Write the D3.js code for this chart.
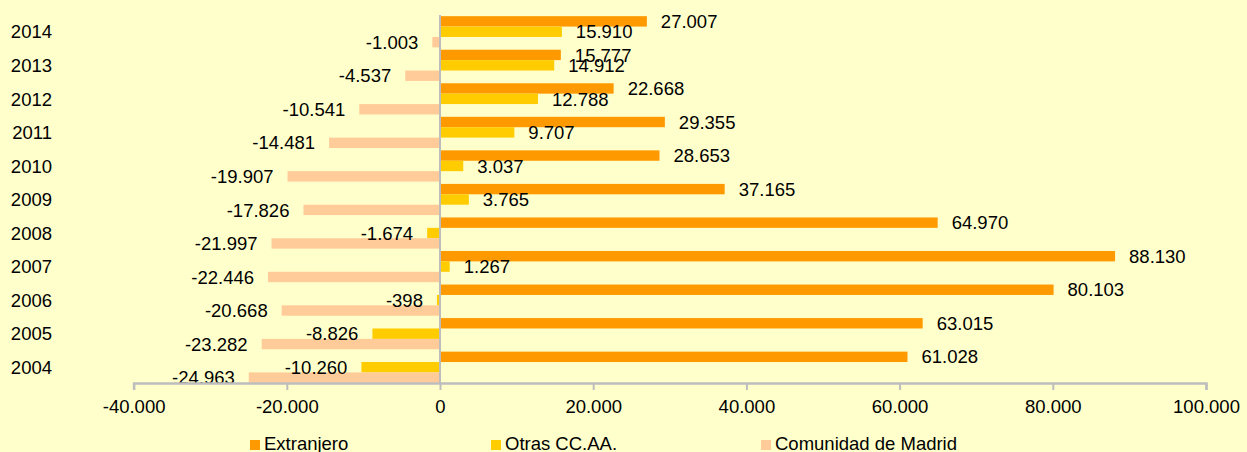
<!DOCTYPE html>
<html>
<head>
<meta charset="utf-8">
<script src="https://cdn.jsdelivr.net/npm/d3@7"></script>
<style>
  body { margin: 0; background: #ffffcc; }
  svg { display: block; font-family: "Liberation Sans", Arial, sans-serif; }
</style>
</head>
<body>
<script>
var width = 1247,
    height = 452;

// data
var years = ["2014", "2013", "2012", "2011", "2010", "2009", "2008", "2007", "2006", "2005", "2004"];
var seriesNames = ["Extranjero", "Otras CC.AA.", "Comunidad de Madrid"];
var extranjero = [27007, 15777, 22668, 29355, 28653, 37165, 64970, 88130, 80103, 63015, 61028];
var otras = [15910, 14912, 12788, 9707, 3037, 3765, -1674, 1267, -398, -8826, -10260];
var madrid = [-1003, -4537, -10541, -14481, -19907, -17826, -21997, -22446, -20668, -23282, -24963];
var xTicks = [-40000, -20000, 0, 20000, 40000, 60000, 80000, 100000];
var colors = ["#ff9900", "#ffcc00", "#ffcc99"];
// end data

var seriesValues = [extranjero, otras, madrid];

var fmt = d3.formatLocale({ decimal: ",", thousands: ".", grouping: [3], currency: ["", ""], minus: "-" }).format(",d");

var xRange = d3.scaleLinear().domain([-40000, 100000]).range([133.6, 1206]);
var yRange = d3.scaleBand().domain(years).range([15, 384]).paddingInner(0.07).paddingOuter(0.035);
var ySub = d3.scaleBand().domain(d3.range(3)).range([0, yRange.bandwidth()]);

var svg = d3.select("body").append("svg")
    .attr("width", width)
    .attr("height", height);

svg.append("rect")
    .attr("width", width)
    .attr("height", height)
    .attr("fill", "#ffffcc");

// bars
var rows = [];
years.forEach(function(y, i) {
    seriesValues.forEach(function(vals, s) {
        rows.push({ year: y, s: s, v: vals[i] });
    });
});

var gBars = svg.append("g");
gBars.selectAll("rect")
    .data(rows)
    .enter().append("rect")
    .attr("x", function(d) { return xRange(Math.min(0, d.v)); })
    .attr("y", function(d) { return yRange(d.year) + ySub(d.s); })
    .attr("width", function(d) { return Math.abs(xRange(d.v) - xRange(0)); })
    .attr("height", ySub.bandwidth())
    .attr("fill", function(d) { return colors[d.s]; });

// value labels
svg.append("g").selectAll("text")
    .data(rows)
    .enter().append("text")
    .attr("x", function(d) { return d.v >= 0 ? xRange(d.v) + 14 : xRange(d.v) - 14; })
    .attr("y", function(d) { return yRange(d.year) + ySub(d.s) + ySub.bandwidth() / 2; })
    .attr("dy", "0.36em")
    .attr("text-anchor", function(d) { return d.v >= 0 ? "start" : "end"; })
    .attr("font-size", "18.5px")
    .attr("fill", "#000")
    .text(function(d) { return fmt(d.v); });

// x axis
var xAxis = d3.axisBottom(xRange)
    .tickValues(xTicks)
    .tickSize(7)
    .tickFormat(fmt);

var gx = svg.append("g")
    .attr("transform", "translate(0,383)")
    .call(xAxis);
gx.select(".domain").attr("stroke", "#bdbdbd").attr("stroke-width", 2.5);
gx.selectAll(".tick line").attr("stroke", "#bdbdbd").attr("stroke-width", 2);
gx.selectAll(".tick text")
    .attr("font-size", "18.5px")
    .attr("font-family", "Liberation Sans, Arial, sans-serif")
    .attr("fill", "#000")
    .attr("y", 17);

// vertical axis at zero
svg.append("line")
    .attr("x1", xRange(0)).attr("x2", xRange(0))
    .attr("y1", 15).attr("y2", 383)
    .attr("stroke", "#bdbdbd")
    .attr("stroke-width", 2);

// category labels
svg.append("g").selectAll("text")
    .data(years)
    .enter().append("text")
    .attr("x", 52)
    .attr("y", function(d) { return yRange(d) + yRange.bandwidth() / 2; })
    .attr("dy", "0.36em")
    .attr("text-anchor", "end")
    .attr("font-size", "18.5px")
    .attr("fill", "#000")
    .text(function(d) { return d; });

// legend
var legendX = [250, 491, 761];
var legend = svg.append("g").selectAll("g")
    .data(seriesNames)
    .enter().append("g")
    .attr("transform", function(d, i) { return "translate(" + legendX[i] + ",440)"; });

legend.append("rect")
    .attr("width", 10)
    .attr("height", 10)
    .attr("fill", function(d, i) { return colors[i]; });

legend.append("text")
    .attr("x", 14)
    .attr("y", 10)
    .attr("font-size", "18.5px")
    .attr("fill", "#000")
    .text(function(d) { return d; });
</script>
</body>
</html>
